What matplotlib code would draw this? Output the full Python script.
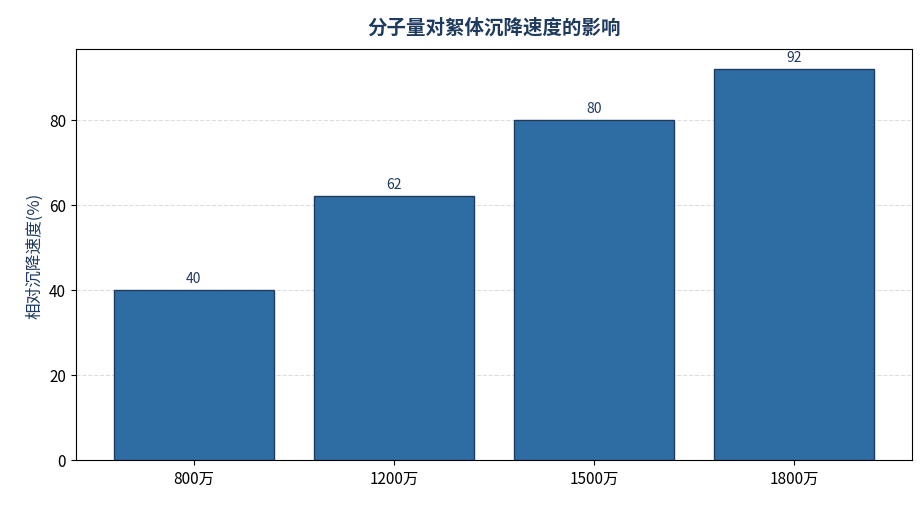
import matplotlib
matplotlib.use("Agg")
import matplotlib.pyplot as plt

plt.rcParams['font.family'] = ['Noto Sans CJK SC', 'DejaVu Sans']

categories = ["800万", "1200万", "1500万", "1800万"]
values = [40, 62, 80, 92]

fig, ax = plt.subplots(figsize=(9.24, 5.06), dpi=100)
fig.subplots_adjust(left=0.082, right=0.987, top=0.901, bottom=0.089)
x = range(len(categories))
bars = ax.bar(x, values, width=0.8, color="#2e6da4", edgecolor="#1f3a5f", linewidth=1.0, zorder=3)
for xi, v in zip(x, values):
    ax.text(xi, v + 1.2, f"{v}", ha="center", va="bottom", fontsize=10, color="#1f3a5f")
ax.set_xticks(list(x))
ax.set_xticklabels(categories, fontsize=11)
ax.set_ylim(0, 96.6)
ax.set_yticks([0, 20, 40, 60, 80])
ax.tick_params(axis='y', labelsize=11)
ax.yaxis.grid(True, linestyle="--", color="#dddddd", linewidth=0.8, zorder=0)
ax.set_axisbelow(True)
ax.set_ylabel("相对沉降速度(%)", fontsize=12, color="#1f3a5f")
ax.set_title("分子量对絮体沉降速度的影响", fontsize=14, fontweight="bold", color="#1f3a5f", pad=12)
fig.savefig("out.png", dpi=100)
